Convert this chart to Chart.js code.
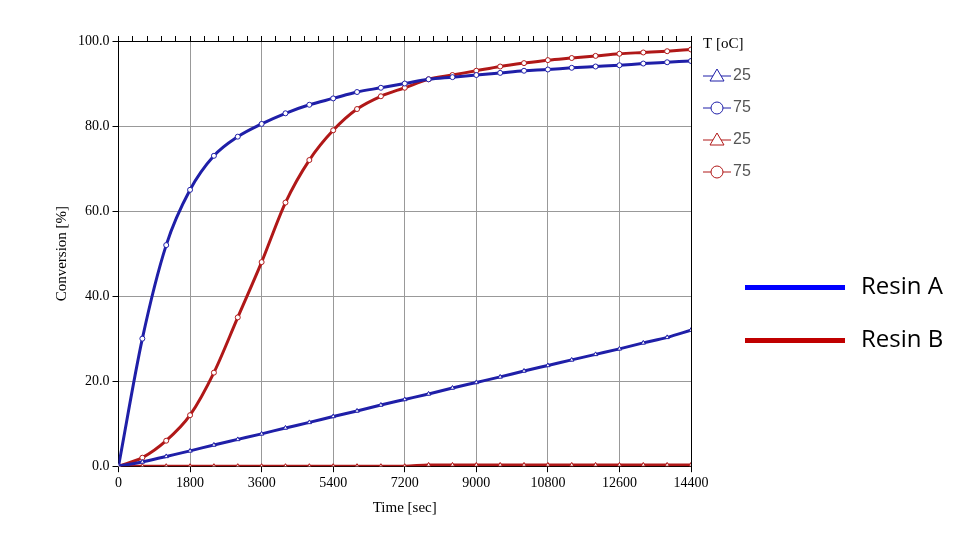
<!DOCTYPE html>
<html><head><meta charset="utf-8">
<script src="https://cdn.jsdelivr.net/npm/chart.js@4"></script>
<style>
body{margin:0;background:#fff;width:975px;height:546px;overflow:hidden;position:relative;font-family:"Open Sans",sans-serif}
#wrap{position:absolute;left:0;top:0;width:975px;height:546px}
.leg{position:absolute;left:745px;font-size:24px;color:#000}
.leg span{display:inline-block;width:100px;height:5px;vertical-align:middle;margin-right:16px}
</style></head><body>
<div id="wrap"><canvas id="chart"></canvas></div>
<div class="leg" style="top:268px"><span style="background:#0000ff"></span>Resin A</div>
<div class="leg" style="top:321px"><span style="background:#c00000"></span>Resin B</div>
<script>
const times = [0,600,1200,1800,2400,3000,3600,4200,4800,5400,6000,6600,7200,7800,8400,9000,9600,10200,10800,11400,12000,12600,13200,13800,14400];
const resinA75 = [0,30,52,65,73,77.5,80.5,83,85,86.5,88,89,90,91,91.5,92,92.5,93,93.3,93.7,94,94.3,94.7,95,95.3];
const resinB75 = [0,2,6,12,22,35,48,62,72,79,84,87,89,91,92,93,94,94.8,95.5,96,96.5,97,97.3,97.6,98];
const resinA25 = [0,1,2.3,3.6,5,6.3,7.6,9,10.3,11.7,13,14.4,15.7,17,18.4,19.7,21,22.4,23.7,25,26.3,27.6,29,30.3,32];
const resinB25 = [0,0,0,0,0,0,0,0,0,0,0,0,0,0.3,0.3,0.3,0.3,0.3,0.3,0.3,0.3,0.3,0.3,0.3,0.3];
const xTicks = [0,1800,3600,5400,7200,9000,10800,12600,14400];

const BLUE = "#1f1fa8", RED = "#b01818";
const pts = arr => times.map((t,i)=>({x:t,y:arr[i]}));
function ds(arr,color,style){
  return {data:pts(arr),borderColor:color,backgroundColor:"#fff",borderWidth:3,pointStyle:style,pointRadius:2.5,pointBorderWidth:1,tension:0.4,cubicInterpolationMode:"monotone"};
}
const legendPlugin = {
  id:"tlegend",
  afterDraw(chart){
    const c = chart.ctx, x0 = chart.chartArea.right + 10;
    c.save();
    c.font = "15px 'Liberation Serif'"; c.fillStyle="#000"; c.textBaseline="middle";
    c.fillText("T [oC]", x0+2, 44);
    const items=[[BLUE,"tri","25"],[BLUE,"cir","75"],[RED,"tri","25"],[RED,"cir","75"]];
    items.forEach((it,i)=>{
      const y = 76+i*32;
      c.strokeStyle=it[0]; c.lineWidth=1;
      c.beginPath(); c.moveTo(x0+2,y); c.lineTo(x0+30,y); c.stroke();
      c.beginPath();
      if(it[1]==="tri"){c.moveTo(x0+16,y-7);c.lineTo(x0+23,y+5);c.lineTo(x0+9,y+5);c.closePath();}
      else c.arc(x0+16,y,6,0,Math.PI*2);
      c.fillStyle="#fff"; c.fill(); c.stroke();
      c.fillStyle="#555"; c.font="16px 'Liberation Sans'";
      c.fillText(it[2], x0+32, y);
    });
    c.restore();
  }
};
new Chart(document.getElementById("chart"),{
  type:"line",
  data:{datasets:[ds(resinA25,BLUE,"triangle"),ds(resinA75,BLUE,"circle"),ds(resinB25,RED,"triangle"),ds(resinB75,RED,"circle")]},
  options:{
    responsive:true,maintainAspectRatio:false,animation:false,
    layout:{padding:{left:49,right:284,top:36,bottom:25}},
    plugins:{legend:{display:false},tooltip:{enabled:false}},
    scales:{
      x:{type:"linear",min:0,max:14400,
        afterBuildTicks:a=>{a.ticks=xTicks.map(v=>({value:v}));},
        grid:{color:"#999",tickLength:6,tickColor:"#000"},border:{color:"#000",width:1},
        ticks:{color:"#000",callback:v=>String(v),font:{family:"Liberation Serif",size:14},maxRotation:0},
        title:{display:true,text:"Time [sec]",color:"#000",font:{family:"Liberation Serif",size:15}}},
      x2:{type:"linear",position:"top",min:0,max:14400,
        afterBuildTicks:a=>{const t=[];for(let v=0;v<=14400;v+=360)t.push({value:v});a.ticks=t;},
        grid:{drawOnChartArea:false,tickLength:5,tickColor:"#000"},border:{color:"#000"},
        ticks:{display:false}},
      y:{min:0,max:100,
        ticks:{stepSize:20,color:"#000",callback:v=>v.toFixed(1),font:{family:"Liberation Serif",size:14}},
        grid:{color:"#999",tickLength:6,tickColor:"#000"},border:{color:"#000"},
        title:{display:true,text:"Conversion [%]",color:"#000",font:{family:"Liberation Serif",size:15}}},
      y2:{position:"right",min:0,max:100,ticks:{display:false,stepSize:20},grid:{drawOnChartArea:false,tickLength:0},border:{color:"#000"}}
    }
  },
  plugins:[legendPlugin]
});
</script></body></html>
